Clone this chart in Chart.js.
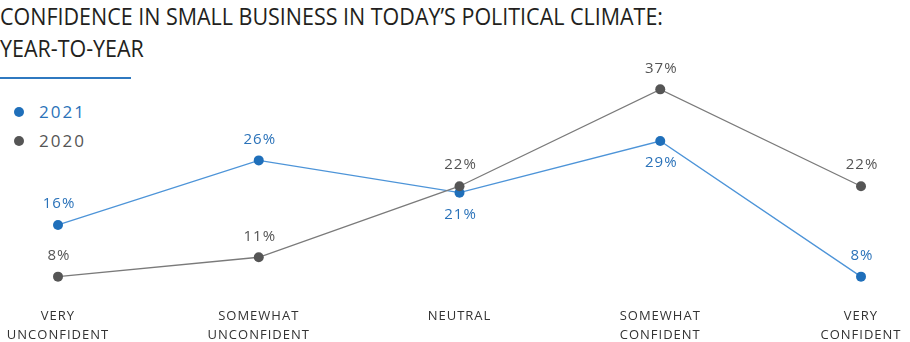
<!DOCTYPE html>
<html>
<head>
<meta charset="utf-8">
<script src="https://cdn.jsdelivr.net/npm/chart.js@4"></script>
<style>
  body { margin: 0; background: #fff; }
  #wrap { position: relative; width: 910px; height: 342px; overflow: hidden; }
  #companyTitle { position: absolute; left: 0; top: 0; font-family: "Open Sans", sans-serif; font-size: 23px; color: #231f20; line-height: 32px; white-space: nowrap; }
  #companyTitle span { display: inline-block; transform-origin: left center; }
  #rule { position: absolute; left: 0; top: 77px; width: 131px; height: 2px; background: #2f79c0; }
  .legend { position: absolute; left: 14px; font-family: "Open Sans", sans-serif; font-size: 17px; letter-spacing: 2px; }
  .legend i { display: inline-block; width: 10px; height: 10px; border-radius: 50%; margin-right: 15px; vertical-align: 1px; }
  canvas { position: absolute; left: 0; top: 0; }
</style>
</head>
<body>
<div id="wrap">
  <div id="companyTitle"><span id="t1"></span><br><span id="t2"></span></div>
  <div id="rule"></div>
  <div class="legend" id="leg2021" style="top:100px;color:#2a72b9"><i style="background:#1f6fba"></i>2021</div>
  <div class="legend" id="leg2020" style="top:129px;color:#555"><i style="background:#555"></i>2020</div>
  <canvas id="lineChart" width="910" height="342"></canvas>
</div>
<script>
const titleLines = ["CONFIDENCE IN SMALL BUSINESS IN TODAY\u2019S POLITICAL CLIMATE:", "YEAR-TO-YEAR"];
const categories = [["VERY", "UNCONFIDENT"], ["SOMEWHAT", "UNCONFIDENT"], ["NEUTRAL"], ["SOMEWHAT", "CONFIDENT"], ["VERY", "CONFIDENT"]];
const values2021 = [16, 26, 21, 29, 8];
const values2020 = [8, 11, 22, 37, 22];

// title, squeezed to the width of the original line
const t1 = document.getElementById('t1');
const t2 = document.getElementById('t2');
t1.textContent = titleLines[0];
t2.textContent = titleLines[1];
const k = 663 / t1.getBoundingClientRect().width;
t1.style.transform = 'scaleX(' + k + ')';
t2.style.transform = 'scaleX(' + k + ')';

const pointLabels = {
    id: 'pointLabels',
    beforeDraw(chart) {
        // wider tracking for the axis labels
        chart.ctx.letterSpacing = '1px';
    },
    afterDatasetsDraw(chart) {
        const ctx = chart.ctx;
        ctx.save();
        ctx.font = '15px "Open Sans", sans-serif';
        ctx.letterSpacing = '1px';
        ctx.textAlign = 'center';
        ctx.textBaseline = 'middle';
        chart.data.datasets.forEach(function (ds, i) {
            const meta = chart.getDatasetMeta(i);
            ctx.fillStyle = ds.labelColor;
            meta.data.forEach(function (pt, j) {
                const dy = ds.labelBelow[j] ? 22 : -21;
                ctx.fillText(ds.data[j] + '%', pt.x + 1, pt.y + dy);
            });
        });
        ctx.restore();
    }
};

const lineChart = new Chart(document.getElementById('lineChart').getContext('2d'), {
    type: 'line',
    data: {
        labels: categories,
        datasets: [{
            label: '2020',
            data: values2020,
            borderColor: '#7a7a7a',
            borderWidth: 1.3,
            pointBackgroundColor: '#555',
            pointBorderWidth: 0,
            pointRadius: 5,
            labelColor: '#555',
            labelBelow: [false, false, false, false, false],
            tension: 0
        }, {
            label: '2021',
            data: values2021,
            borderColor: '#4d94d8',
            borderWidth: 1.3,
            pointBackgroundColor: '#1f6fba',
            pointBorderWidth: 0,
            pointRadius: 5,
            labelColor: '#2a72b9',
            labelBelow: [false, false, true, true, false],
            tension: 0
        }]
    },
    options: {
        responsive: false,
        animation: false,
        devicePixelRatio: 1,
        layout: { padding: { top: 70, left: 58, right: 49, bottom: 0 } },
        plugins: { legend: { display: false }, tooltip: { enabled: false } },
        scales: {
            x: {
                offset: false,
                grid: { display: false },
                border: { display: false },
                ticks: {
                    color: '#333',
                    padding: 3,
                    autoSkip: false,
                    maxRotation: 0,
                    font: { family: '"Open Sans", sans-serif', size: 13, lineHeight: 1.45 }
                },
                afterFit: function (scale) { scale.height = 46; }
            },
            y: { display: false, min: 5, max: 40 }
        }
    },
    plugins: [pointLabels]
});
</script>
</body>
</html>
